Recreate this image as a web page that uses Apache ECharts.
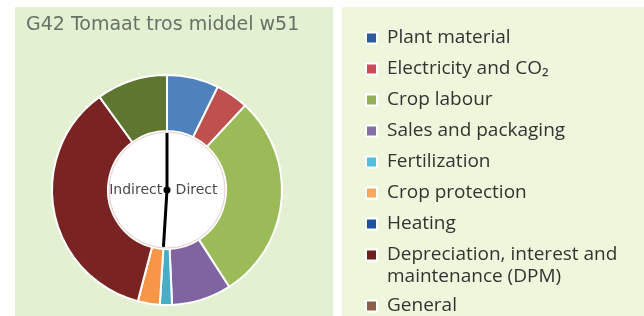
<!DOCTYPE html>
<html>
<head>
<meta charset="utf-8">
<script src="https://cdn.jsdelivr.net/npm/echarts@6/dist/echarts.min.js"></script>
<style>
  html, body { margin: 0; padding: 0; background: #fff; }
  #chart { width: 644px; height: 316px; }
</style>
</head>
<body>
<div id="chart"></div>
<script>
var categories = [
  'Plant material',
  'Electricity and CO₂',
  'Crop labour',
  'Sales and packaging',
  'Fertilization',
  'Crop protection',
  'Heating',
  'Depreciation, interest and maintenance (DPM)',
  'General'
]
var shares = [7.3, 4.6, 29.1, 8.4, 1.7, 3.1, 0, 36.0, 10.0]
// first five categories are direct costs, the rest indirect
var directCount = 5
var sliceColors = ['#4f81bd', '#c0504d', '#9bbb59', '#8064a2', '#4bacc6', '#f79646', '#1f4e9c', '#7a2323', '#5f7631']
var legendColors = ['#2c5d9c', '#c94b57', '#90af56', '#8571a8', '#55bde0', '#f7a75b', '#1f4fa0', '#6e1f1f', '#8b5e4c']

var total = shares.reduce(function (a, b) { return a + b }, 0)
var directShare = shares.slice(0, directCount).reduce(function (a, b) { return a + b }, 0) / total * 100

var chart = echarts.init(document.getElementById('chart'))

// shared legend look; the long DPM label wraps with its icon on the first line
function legendBlock (names, top) {
  return {
    orient: 'vertical',
    left: 365,
    top: top,
    height: 400,
    padding: 0,
    itemWidth: 11,
    itemHeight: 11,
    itemGap: 9,
    icon: 'rect',
    selectedMode: false,
    data: names.map(function (name) {
      return { name: name, itemStyle: { color: legendColors[categories.indexOf(name)] } }
    }),
    formatter: function (name) {
      if (name.indexOf('and maintenance') > -1) {
        var parts = name.split('and maintenance')
        return '{a|' + parts[0] + 'and}\n{b|maintenance' + parts[1] + '}'
      }
      return name
    },
    textStyle: {
      fontFamily: 'Open Sans',
      fontSize: 19,
      lineHeight: 22,
      color: '#333333',
      padding: [0, 0, 0, 5],
      rich: {
        a: { fontFamily: 'Open Sans', fontSize: 19, color: '#333333', lineHeight: 22 },
        b: { fontFamily: 'Open Sans', fontSize: 19, color: '#333333', lineHeight: 0, height: 22, verticalAlign: 'top' }
      }
    }
  }
}

var option = {
  animation: false,
  title: {
    text: 'G42 Tomaat tros middel w51',
    left: 21,
    top: 11,
    textStyle: {
      fontFamily: 'DejaVu Sans',
      fontSize: 19,
      fontWeight: 'normal',
      color: '#667266'
    }
  },
  graphic: [
    { type: 'rect', z: -10, silent: true, shape: { x: 15, y: 7, width: 318, height: 309 }, style: { fill: '#e4f0d2' } },
    { type: 'rect', z: -10, silent: true, shape: { x: 342, y: 7, width: 302, height: 309 }, style: { fill: '#eef6dc' } }
  ],
  legend: [
    legendBlock(categories.slice(0, 8), 27),
    legendBlock(categories.slice(8), 295)
  ],
  series: [
    {
      type: 'pie',
      center: [167, 190],
      radius: [59, 115],
      startAngle: 90,
      clockwise: true,
      silent: true,
      label: { show: false },
      labelLine: { show: false },
      itemStyle: { borderColor: '#ffffff', borderWidth: 2 },
      data: categories.map(function (name, i) {
        return { name: name, value: shares[i], itemStyle: { color: sliceColors[i] } }
      })
    },
    {
      type: 'pie',
      center: [167, 190],
      radius: [0, 58],
      silent: true,
      label: { show: false },
      labelLine: { show: false },
      itemStyle: { color: '#ffffff', borderColor: '#e8cccc', borderWidth: 1 },
      data: [{ name: 'inner', value: 1 }]
    },
    {
      type: 'gauge',
      center: [167, 190],
      radius: 58,
      startAngle: 90,
      endAngle: -270,
      min: 0,
      max: 100,
      z: 5,
      axisLine: { show: false },
      splitLine: { show: false },
      axisTick: { show: false },
      axisLabel: { show: false },
      pointer: {
        icon: 'rect',
        length: 57,
        width: 3,
        offsetCenter: [0, 0],
        itemStyle: { color: '#000000' }
      },
      anchor: {
        show: true,
        size: 7,
        showAbove: true,
        itemStyle: { color: '#000000' }
      },
      detail: { show: false },
      title: {
        show: true,
        fontFamily: 'DejaVu Sans',
        fontSize: 14,
        color: '#4a4a4a'
      },
      data: [
        { value: 0, name: 'Indirect', title: { offsetCenter: ['-54%', '0%'] } },
        { value: directShare, name: 'Direct', title: { offsetCenter: ['51%', '0%'] } }
      ]
    }
  ]
}

chart.setOption(option)
</script>
</body>
</html>
